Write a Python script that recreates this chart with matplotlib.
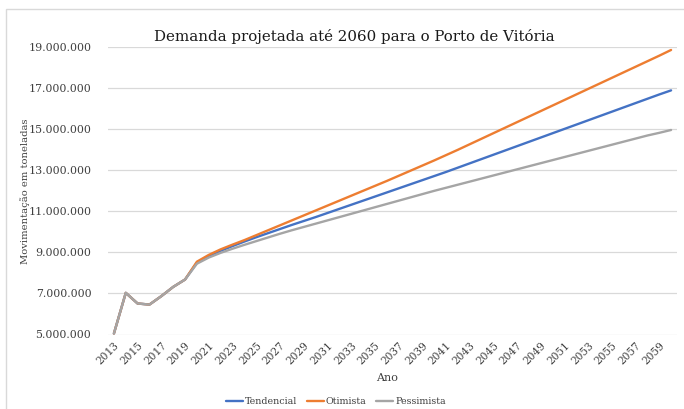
import matplotlib
matplotlib.use("Agg")
import matplotlib.pyplot as plt
from matplotlib.patches import Rectangle
from matplotlib.ticker import FuncFormatter, FixedLocator

plt.rcParams['font.family'] = ['DejaVu Serif']

years = list(range(2013, 2061))

historico = [5.05, 7.03, 6.51, 6.46, 6.87, 7.32, 7.68]

tendencial_proj = [8.50, 8.82, 9.08, 9.31, 9.53, 9.74, 9.94, 10.14, 10.34, 10.53,
                   10.72, 10.92, 11.12, 11.32, 11.52, 11.72, 11.92, 12.12, 12.32, 12.52,
                   12.72, 12.92, 13.13, 13.34, 13.55, 13.76, 13.97, 14.18, 14.39, 14.60,
                   14.81, 15.02, 15.23, 15.44, 15.65, 15.86, 16.07, 16.28, 16.49, 16.70,
                   16.90]
otimista_proj = [8.55, 8.88, 9.15, 9.38, 9.60, 9.84, 10.08, 10.32, 10.56, 10.80,
                 11.04, 11.28, 11.52, 11.76, 12.00, 12.24, 12.48, 12.73, 12.98, 13.23,
                 13.48, 13.74, 14.00, 14.27, 14.54, 14.81, 15.08, 15.35, 15.62, 15.89,
                 16.16, 16.43, 16.70, 16.97, 17.24, 17.51, 17.78, 18.05, 18.32, 18.59,
                 18.87]
pessimista_proj = [8.45, 8.75, 8.98, 9.18, 9.37, 9.55, 9.73, 9.91, 10.08, 10.24,
                   10.40, 10.56, 10.72, 10.88, 11.04, 11.20, 11.36, 11.52, 11.68, 11.84,
                   12.00, 12.15, 12.30, 12.45, 12.60, 12.75, 12.90, 13.05, 13.20, 13.35,
                   13.50, 13.65, 13.80, 13.95, 14.10, 14.25, 14.40, 14.55, 14.70, 14.83,
                   14.97]

series_names = ["Tendencial", "Otimista", "Pessimista"]
series_colors = ["#4472C4", "#ED7D31", "#A5A5A5"]
y_ticks = [5e6, 7e6, 9e6, 11e6, 13e6, 15e6, 17e6, 19e6]

title = "Demanda projetada até 2060 para o Porto de Vitória"
ylabel = "Movimentação em toneladas"
xlabel = "Ano"

series = [
    [v * 1e6 for v in historico + tendencial_proj],
    [v * 1e6 for v in historico + otimista_proj],
    [v * 1e6 for v in historico + pessimista_proj],
]

fig = plt.figure(figsize=(6.84, 4.09), dpi=100)
ax = fig.add_axes([108/684, 1 - 334.5/409, (677-108)/684, (334.5-47.3)/409])

xs = list(range(len(years)))
handles = []
for vals, name, col in zip(series, series_names, series_colors):
    h, = ax.plot(xs, vals, color=col, lw=1.7, label=name, solid_capstyle='round')
    handles.append(h)

ax.set_xlim(-0.5, len(years) - 0.5)
ax.set_ylim(5e6, 19e6)
ax.yaxis.set_major_locator(FixedLocator(y_ticks))
ax.yaxis.set_major_formatter(FuncFormatter(lambda v, p: f"{int(v):,}".replace(",", ".")))
ax.grid(axis='y', color='#D9D9D9', lw=0.9)
ax.set_axisbelow(True)
for s in ax.spines.values():
    s.set_visible(False)
ax.tick_params(axis='y', length=0, pad=12, labelsize=7.9, labelcolor='#404040')

tick_pos = xs[::2]
ax.set_xticks(tick_pos)
ax.set_xticklabels([str(years[i]) for i in tick_pos], rotation=45, ha='right',
                   rotation_mode='anchor', fontsize=7.6, color='#404040')
ax.tick_params(axis='x', length=0, pad=4)

ax.set_ylabel(ylabel, fontsize=7.2, color='#404040')
ax.yaxis.set_label_coords(-0.137, 0.5)

fig.text(387/684, 1 - 378/409, xlabel, ha='center', va='center', fontsize=8.0, color='#404040')
fig.text(354/684, 1 - 37/409, title, ha='center', va='center', fontsize=10.8, color='#1a1a1a')

leg = fig.legend(handles=handles, loc='center', bbox_to_anchor=(336/684, 1 - 402/409),
                 ncol=3, frameon=False, fontsize=6.8, handlelength=1.8, handletextpad=0.2,
                 columnspacing=1.0)
for t in leg.get_texts():
    t.set_color('#404040')

fig.patches.append(Rectangle((6/684, -0.1), 2, 1.1 - 9/409, transform=fig.transFigure,
                             fill=False, edgecolor='#D9D9D9', lw=1))

fig.savefig("out.png", dpi=100)
